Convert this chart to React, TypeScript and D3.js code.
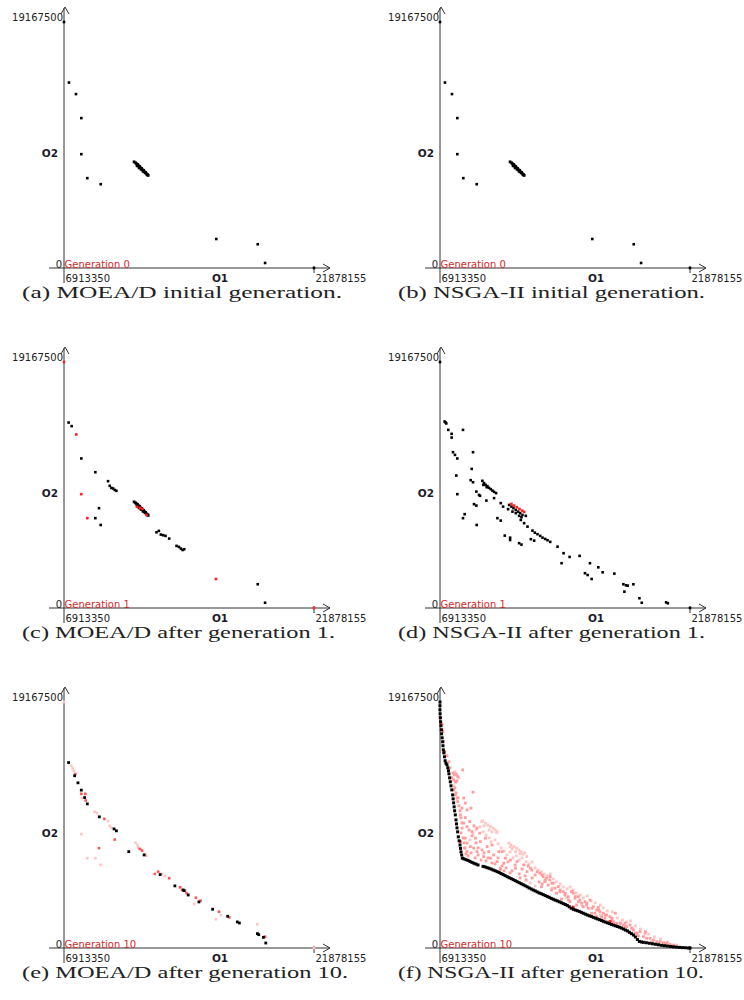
import React from "react";
import * as d3 from "d3";

// Objective ranges (raw units)
const O1_MIN = 6913350;
const O1_MAX = 21878155;
const O2_MAX = 19167500;

// All point values below are [O1, O2] in millions
type P = [number, number];

const extremes: P[] = [[6.91335, 19.1675], [21.878155, 0]];

const gen0Scatter: P[] = [
  [7.21, 14.45], [7.63, 13.55], [7.95, 11.68], [7.95, 8.87], [8.31, 7.0], [9.11, 6.53],
  [16.03, 2.26], [18.51, 1.85], [18.95, 0.39],
];
const gen0Cluster: P[] = [
  [11.11, 8.27], [11.2, 8.19], [11.26, 8.11], [11.32, 8.07], [11.38, 7.96], [11.44, 7.92],
  [11.5, 7.8], [11.56, 7.76], [11.62, 7.64], [11.68, 7.61], [11.74, 7.49], [11.8, 7.45],
  [11.86, 7.33], [11.92, 7.25], [11.95, 7.22], [11.29, 7.96], [11.41, 7.8], [11.53, 7.68],
  [11.65, 7.53], [11.77, 7.41], [11.89, 7.29],
];

// MOEA/D after generation 1
const moeadG1Black: P[] = [
  [7.19, 14.45], [7.37, 14.17], [7.95, 11.65], [8.79, 10.58], [9.55, 9.88], [9.65, 9.52],
  [9.75, 9.36], [9.85, 9.31], [9.95, 9.2], [10.05, 9.13], [9.01, 7.78], [8.79, 7.0], [9.11, 6.47],
  [12.45, 5.9], [12.59, 6.01], [12.71, 5.72], [12.85, 5.67], [12.99, 5.62], [13.21, 5.41],
  [13.65, 4.84], [13.79, 4.76], [13.91, 4.63], [14.01, 4.52], [14.11, 4.58],
  [18.51, 1.85], [18.95, 0.41],
];
const moeadG1Red: P[] = [
  [7.65, 13.52], [7.95, 8.87], [8.31, 7.0], [16.01, 2.26],
  [11.29, 7.88], [11.47, 7.8], [11.61, 7.72], [11.85, 7.25],
];

// NSGA-II after generation 1
const nsgaG1Black: P[] = [
  [7.25, 14.45], [7.19, 14.53], [7.29, 14.38], [7.41, 13.88], [7.61, 13.57], [7.61, 13.28],
  [8.29, 13.88], [7.69, 12.14], [7.81, 11.93], [7.95, 11.65], [8.89, 12.14], [8.81, 10.84],
  [7.89, 10.32], [8.75, 9.96], [8.89, 9.8], [7.95, 8.87], [9.09, 9.07], [9.25, 8.81], [9.31, 8.74],
  [9.69, 8.37], [10.15, 8.56],
  [9.45, 9.91], [9.55, 9.73], [9.65, 9.59], [9.75, 9.49], [9.85, 9.36], [9.95, 9.26],
  [10.05, 9.15], [10.15, 9.05], [10.27, 8.95], [9.51, 9.59], [9.71, 9.41],
  [8.95, 8.09], [9.09, 7.98], [8.39, 7.31], [8.29, 7.0], [9.11, 6.47], [10.55, 8.17], [10.69, 7.9],
  [11.05, 8.03], [11.19, 7.9], [11.31, 7.78], [11.45, 7.64], [11.59, 7.51], [11.71, 7.39],
  [11.85, 7.25], [12.05, 7.18], [10.99, 7.7], [11.25, 7.51], [11.45, 7.39], [11.65, 7.18], [11.79, 7.07],
  [10.35, 7.0], [10.55, 6.81], [11.75, 6.86], [11.95, 6.61], [12.15, 6.34],
  [12.45, 6.03], [12.59, 5.87], [12.75, 5.75], [12.91, 5.62], [13.05, 5.48], [13.21, 5.38],
  [13.35, 5.28], [13.51, 5.15], [10.79, 5.64], [11.11, 5.48], [11.11, 5.3], [11.65, 5.05],
  [11.79, 4.94], [12.35, 5.36], [12.55, 5.25], [13.95, 4.78], [14.31, 4.27], [14.67, 3.98],
  [15.27, 4.06], [14.19, 3.49], [15.89, 3.49], [16.39, 3.17], [16.65, 2.78], [17.35, 2.68],
  [15.59, 2.71], [15.75, 2.57], [15.99, 2.26], [17.89, 1.85], [18.05, 1.77], [18.15, 1.74],
  [18.49, 1.85], [17.95, 1.27], [18.85, 0.76], [18.99, 0.41], [20.45, 0.44], [20.55, 0.37],
];
const nsgaG1Red: P[] = [
  [11.19, 8.11], [11.35, 7.98], [11.51, 7.85], [11.67, 7.72], [11.83, 7.59], [11.95, 7.49],
];

// MOEA/D after generation 10
const moeadG10Black: P[] = [
  [7.19, 14.45], [7.55, 13.42], [7.75, 12.87], [7.95, 12.3], [8.15, 11.72], [8.31, 11.23],
  [9.03, 10.22], [9.91, 9.28], [10.05, 9.13], [10.79, 7.51], [11.71, 7.25], [12.67, 5.72],
  [13.55, 4.84], [14.05, 4.52], [14.11, 4.47], [14.35, 4.13], [14.99, 3.59], [15.81, 3.02],
  [16.71, 2.47], [17.29, 2.03], [17.41, 1.95], [18.49, 1.12], [18.57, 1.04], [18.85, 0.83], [18.99, 0.39],
];
const moeadG10Red: P[] = [
  [7.59, 13.55], [7.95, 12.01], [8.19, 12.01], [8.21, 11.49], [9.33, 10.06], [9.95, 8.45],
  [9.01, 7.78], [11.45, 7.72], [11.59, 7.59], [12.35, 5.77], [12.55, 5.95], [13.21, 5.44],
  [13.87, 4.73], [13.99, 4.52], [14.25, 4.27], [14.81, 3.92], [15.09, 3.69], [16.19, 2.83],
  [16.81, 2.39], [18.95, 0.88],
];
const moeadG10Pink: P[] = [
  [7.35, 14.2], [7.43, 13.99], [7.51, 13.81], [7.99, 11.68], [8.75, 10.61], [8.89, 10.51],
  [9.55, 9.88], [9.65, 9.52], [9.75, 9.36], [7.95, 8.87], [8.31, 7.0], [8.79, 7.0], [9.11, 6.47],
  [11.19, 8.21], [11.31, 8.03], [11.35, 7.85], [11.51, 7.7], [11.79, 7.33], [11.85, 7.18],
  [12.95, 5.62], [12.79, 5.77], [13.85, 4.73], [14.19, 4.47], [14.71, 3.43], [16.31, 2.55],
  [16.01, 2.24], [18.49, 1.85],
];

// NSGA-II after generation 10
const nsgaG10Front: P[] = [
  [6.91, 18.88], [6.91, 18.56], [6.92, 18.25], [6.93, 17.94], [6.95, 17.63], [6.97, 17.32],
  [6.99, 17.0], [7.01, 16.69], [7.04, 16.38], [7.07, 16.07], [7.09, 15.76], [7.11, 15.44],
  [7.14, 15.21], [7.18, 14.9], [7.22, 14.59], [7.27, 14.39], [7.33, 14.27], [7.38, 14.04],
  [7.42, 13.81], [7.45, 13.57], [7.49, 13.26], [7.53, 12.95], [7.57, 12.64], [7.62, 12.32],
  [7.67, 11.93], [7.7, 11.62], [7.73, 11.31], [7.76, 11.0], [7.79, 10.69], [7.83, 10.37],
  [7.87, 9.98], [7.9, 9.67], [7.93, 9.36], [7.97, 9.05], [8.01, 8.66], [8.06, 8.35],
  [8.11, 8.03], [8.14, 7.76], [8.17, 7.49], [8.21, 7.25], [8.25, 7.0],
  [8.35, 6.94], [8.47, 6.88], [8.59, 6.83], [8.71, 6.75], [8.83, 6.67], [8.95, 6.6], [9.07, 6.54],
  [9.19, 6.47], [9.49, 6.36], [9.61, 6.32], [9.73, 6.26], [9.85, 6.21], [9.97, 6.15], [10.09, 6.08],
  [10.21, 6.02], [10.33, 5.95], [10.45, 5.88], [10.57, 5.8], [10.69, 5.72], [10.81, 5.64],
  [10.93, 5.56], [11.05, 5.48], [11.17, 5.41], [11.29, 5.33], [11.41, 5.25], [11.53, 5.17],
  [11.65, 5.09], [11.77, 5.01], [11.89, 4.93], [12.01, 4.85], [12.13, 4.77], [12.25, 4.68],
  [12.37, 4.6], [12.49, 4.52], [12.61, 4.45], [12.73, 4.37], [12.85, 4.29], [12.97, 4.23],
  [13.09, 4.16], [13.21, 4.09], [13.33, 4.02], [13.45, 3.95], [13.57, 3.87], [13.69, 3.8],
  [13.81, 3.73], [13.93, 3.67], [14.05, 3.6], [14.17, 3.53], [14.29, 3.46], [14.41, 3.39],
  [14.53, 3.32], [14.65, 3.21], [14.77, 3.1], [14.89, 3.02], [15.01, 2.96], [15.13, 2.91],
  [15.25, 2.85], [15.37, 2.78], [15.49, 2.71], [15.61, 2.64], [15.73, 2.57], [15.85, 2.51],
  [15.97, 2.46], [16.09, 2.39], [16.21, 2.33], [16.33, 2.27], [16.45, 2.21], [16.57, 2.15],
  [16.69, 2.08], [16.81, 2.02], [16.93, 1.96], [17.05, 1.9], [17.17, 1.84], [17.29, 1.79],
  [17.41, 1.73], [17.53, 1.68], [17.65, 1.62], [17.77, 1.56], [17.89, 1.48], [18.01, 1.4],
  [18.13, 1.33], [18.25, 1.22], [18.37, 1.12], [18.49, 1.01], [18.61, 0.86], [18.73, 0.66],
  [18.85, 0.51], [18.97, 0.47], [19.09, 0.44], [19.27, 0.41], [19.45, 0.37], [19.63, 0.33],
  [19.81, 0.29], [19.99, 0.25], [20.17, 0.21], [20.35, 0.18], [20.53, 0.15], [20.71, 0.12],
  [20.89, 0.09], [21.07, 0.07], [21.25, 0.05], [21.43, 0.03], [21.61, 0.02], [21.79, 0.0],
];
const nsgaG10Red: P[] = [
  [6.97, 17.53], [7.03, 17.0], [7.17, 15.31], [8.13, 8.29], [14.89, 3.2], [17.11, 2.07], [6.96, 17.94],
];
const nsgaG10Pink: P[] = [
  [7.03, 17.39], [7.09, 16.87], [7.13, 16.09], [7.17, 15.19], [7.33, 14.98], [7.45, 14.51],
  [7.51, 14.04], [7.63, 13.26], [7.81, 12.48], [7.87, 12.09], [7.99, 11.7], [8.05, 11.08],
  [8.11, 10.69], [8.17, 10.14], [8.23, 9.75], [8.17, 8.97], [8.29, 8.58], [8.35, 8.19],
  [8.41, 7.8], [8.47, 7.33],
  [7.69, 13.63], [7.77, 13.49], [7.89, 13.55], [7.97, 13.36], [7.73, 13.1], [7.85, 12.92],
  [7.93, 13.03], [8.27, 13.88], [8.89, 12.14], [7.73, 12.32], [7.83, 11.93], [7.93, 11.68],
  [7.97, 11.41], [8.33, 11.68], [8.43, 11.29], [8.23, 10.9], [8.53, 10.76], [8.77, 10.9],
  [8.13, 10.37], [8.43, 10.16], [8.69, 9.85], [8.33, 9.73], [8.23, 9.34], [8.53, 9.46], [8.83, 9.07],
  [9.13, 9.34], [9.29, 8.95], [9.63, 8.56], [9.03, 8.56], [9.33, 8.29],
  [8.43, 8.56], [8.53, 8.17], [8.73, 7.9], [8.37, 7.78], [8.53, 7.51], [8.93, 7.78], [9.13, 7.51],
  [9.43, 7.64], [9.73, 7.9], [10.03, 8.03], [9.83, 7.51], [10.13, 7.25], [10.43, 7.51],
  [10.63, 7.51], [9.53, 7.12], [9.93, 7.0], [10.33, 6.73], [10.73, 6.61], [10.53, 6.22], [10.83, 7.0],
  [11.13, 6.86], [11.53, 6.73], [11.93, 6.47], [12.33, 6.22], [12.73, 5.95], [11.43, 6.22], [12.13, 5.95],
  [8.59, 7.18], [8.77, 7.41], [9.01, 7.02], [9.19, 7.25], [9.37, 6.86], [9.55, 7.41], [9.07, 8.19],
  [8.83, 8.74], [8.65, 9.2], [8.95, 9.52], [9.19, 7.8], [9.67, 6.79], [10.21, 6.55], [10.39, 7.02],
  [10.63, 6.4], [10.87, 6.24], [10.99, 6.71], [11.23, 6.01], [11.41, 6.47], [11.65, 5.77],
  [11.83, 6.16], [12.01, 5.62], [12.19, 6.4], [12.43, 5.46], [12.61, 5.69], [12.85, 5.15],
  [13.03, 4.99], [12.07, 5.3], [11.71, 5.46], [11.11, 5.85], [10.75, 6.01], [10.51, 6.08],
  [10.03, 6.63], [9.79, 7.02],
  [12.41, 6.08], [13.01, 5.69], [13.21, 5.3], [13.61, 5.05], [13.51, 5.56],
  [14.11, 4.52], [14.41, 4.27], [14.81, 4.39], [15.01, 4.0], [15.21, 3.61], [14.61, 3.74],
  [15.71, 3.49], [16.01, 3.1], [16.41, 2.96], [16.81, 2.57], [17.21, 2.32], [16.61, 2.18], [17.41, 2.71],
  [17.71, 1.93], [18.01, 1.66], [18.41, 1.54], [18.71, 1.15], [19.21, 1.27],
  [19.61, 0.49], [20.01, 0.37], [20.41, 0.37], [20.81, 0.16],
  [12.89, 5.83], [13.09, 5.56], [13.29, 5.44], [13.19, 5.17], [13.49, 5.3], [13.39, 4.91],
  [12.99, 4.78], [13.69, 5.05], [13.79, 4.66], [13.59, 4.52], [13.99, 4.78], [14.09, 4.39],
  [13.89, 4.27], [14.29, 4.39], [14.39, 4.13], [14.59, 4.0], [14.79, 4.39], [14.89, 4.27],
  [14.99, 3.88], [15.19, 4.0], [15.29, 3.74], [15.39, 3.49], [15.59, 3.61], [15.69, 3.35],
  [15.89, 3.74], [15.79, 3.1], [16.09, 3.22], [16.29, 2.96], [16.19, 2.71], [16.39, 3.17],
  [16.49, 2.83], [16.69, 2.71], [16.59, 2.44], [16.79, 2.32], [16.89, 2.57], [17.09, 2.44],
  [17.19, 2.18], [17.29, 2.05], [17.49, 1.93], [17.39, 1.79], [17.69, 1.93], [17.89, 1.79],
  [18.09, 1.66], [17.79, 1.54], [18.29, 1.79], [18.39, 1.54], [18.19, 1.27], [18.49, 1.4],
  [18.59, 1.15], [18.89, 1.27], [19.19, 1.15], [19.29, 0.76], [19.49, 0.76], [19.69, 0.62],
  [19.89, 0.49], [20.09, 0.49], [20.29, 0.41], [20.49, 0.37], [20.69, 0.29], [20.89, 0.23],
  [19.09, 0.88], [18.79, 0.94], [17.99, 1.93], [15.49, 3.22], [15.09, 3.35], [14.69, 3.61],
  [14.19, 3.8], [17.59, 1.66], [16.99, 2.05], [15.99, 2.71], [16.29, 2.44],
];
const nsgaG10LightPink: P[] = [
  [9.47, 9.91], [9.63, 9.73], [9.77, 9.59], [9.93, 9.46], [10.09, 9.34], [10.23, 9.2], [10.33, 9.07],
  [9.41, 9.85], [9.55, 9.52], [9.85, 9.2], [10.03, 9.05], [10.31, 8.99],
  [11.03, 8.17], [11.17, 8.03], [11.33, 7.9], [11.49, 7.78], [11.63, 7.64], [11.77, 7.51],
  [11.43, 7.51], [11.23, 7.72], [11.89, 7.31], [12.11, 7.12], [11.11, 7.88], [11.71, 7.33], [11.98, 7.41],
  [7.81, 13.73], [8.05, 13.26], [7.75, 12.64], [13.63, 4.68], [14.47, 3.9], [15.43, 3.28],
  [16.51, 2.57], [12.61, 4.84], [12.31, 5.07],
  [8.71, 8.42], [8.89, 8.89], [9.07, 9.2], [9.31, 9.44], [9.49, 9.05], [9.67, 8.81], [9.85, 8.58],
  [9.97, 8.27], [10.21, 8.42], [10.39, 8.11], [10.57, 7.8], [10.75, 7.57], [10.93, 7.25],
  [11.11, 7.49], [11.29, 7.02], [11.47, 7.18], [11.65, 6.86], [11.83, 7.02], [12.07, 6.71],
  [12.25, 6.55], [12.43, 6.71], [12.61, 6.24], [12.79, 6.08], [12.97, 5.93], [13.15, 5.77],
  [13.33, 5.62], [13.51, 5.77], [13.69, 5.38], [13.87, 5.15], [14.11, 4.99], [14.29, 4.76],
  [14.53, 4.6], [14.71, 4.76], [14.89, 4.52], [15.07, 4.29], [15.31, 4.13], [15.49, 3.9],
  [15.73, 4.06], [15.97, 3.67], [16.21, 3.51], [16.51, 3.35], [16.69, 3.12], [16.93, 2.89],
  [17.23, 2.81], [17.53, 2.34], [17.83, 2.18], [18.07, 2.03], [18.31, 2.11], [18.61, 1.72],
  [18.91, 1.48], [19.39, 1.09], [19.75, 0.86], [20.11, 0.7], [20.53, 0.47], [21.07, 0.23],
];

const O1_TICKS = [O1_MIN, O1_MAX];
const O2_TICKS = [0, O2_MAX];

const BLACK = "#000000";
const RED = "#ff1f1f";
const RED_E = "#ff5454";
const PINK_E = "#ffc4c4";
const PINK_F = "#ff9c9c";
const LIGHT_F = "#ffc6c6";

type Layer = { pts: P[]; color: string; size: number };
type PanelDef = {
  ox: number; oy: number; gen: string; caption: string; capW: number; layers: Layer[];
};

const panels: PanelDef[] = [
  { ox: 64, oy: 268, gen: "Generation 0", caption: "(a) MOEA/D initial generation.", capW: 320,
    layers: [{ pts: extremes, color: BLACK, size: 2.6 }, { pts: gen0Scatter, color: BLACK, size: 2.6 }, { pts: gen0Cluster, color: BLACK, size: 2.8 }] },
  { ox: 440, oy: 268, gen: "Generation 0", caption: "(b) NSGA-II initial generation.", capW: 307,
    layers: [{ pts: extremes, color: BLACK, size: 2.6 }, { pts: gen0Scatter, color: BLACK, size: 2.6 }, { pts: gen0Cluster, color: BLACK, size: 2.8 }] },
  { ox: 64, oy: 608, gen: "Generation 1", caption: "(c) MOEA/D after generation 1.", capW: 313,
    layers: [{ pts: gen0Cluster, color: BLACK, size: 2.8 }, { pts: moeadG1Black, color: BLACK, size: 2.6 }, { pts: moeadG1Red, color: RED, size: 2.6 }, { pts: extremes, color: RED, size: 2.6 }] },
  { ox: 440, oy: 608, gen: "Generation 1", caption: "(d) NSGA-II after generation 1.", capW: 307,
    layers: [{ pts: extremes, color: BLACK, size: 2.6 }, { pts: nsgaG1Black, color: BLACK, size: 2.6 }, { pts: nsgaG1Red, color: RED, size: 2.6 }] },
  { ox: 64, oy: 948, gen: "Generation 10", caption: "(e) MOEA/D after generation 10.", capW: 326,
    layers: [{ pts: extremes, color: PINK_E, size: 2.6 }, { pts: moeadG10Pink, color: PINK_E, size: 2.6 }, { pts: moeadG10Red, color: RED_E, size: 2.6 }, { pts: moeadG10Black, color: BLACK, size: 2.8 }] },
  { ox: 440, oy: 948, gen: "Generation 10", caption: "(f) NSGA-II after generation 10.", capW: 306,
    layers: [{ pts: nsgaG10LightPink, color: LIGHT_F, size: 2.8 }, { pts: nsgaG10Pink, color: PINK_F, size: 2.8 }, { pts: nsgaG10Red, color: RED, size: 2.6 }, { pts: nsgaG10Front, color: BLACK, size: 3 }, { pts: extremes, color: BLACK, size: 3 }] },
];

const SANS = "'DejaVu Sans', Verdana, sans-serif";
const SERIF = "'Liberation Serif', 'DejaVu Serif', serif";
const AXIS = "#333";

function Panel({ p }: { p: PanelDef }) {
  const { ox, oy } = p;
  const x = d3.scaleLinear().domain([O1_MIN / 1e6, O1_MAX / 1e6]).range([ox, ox + 250]);
  const y = d3.scaleLinear().domain([0, O2_MAX / 1e6]).range([oy, oy - 246]);
  const fmt = d3.format("d");
  return (
    <g>
      <line x1={ox} y1={oy - 260} x2={ox} y2={oy + 15} stroke={AXIS} strokeWidth={1} />
      <polyline points={`${ox - 3},${oy - 254} ${ox + 1},${oy - 261} ${ox + 5},${oy - 254}`} fill="none" stroke={AXIS} strokeWidth={1} />
      <line x1={ox - 15} y1={oy} x2={ox + 266} y2={oy} stroke={AXIS} strokeWidth={1} />
      <polyline points={`${ox + 259},${oy - 4} ${ox + 266},${oy} ${ox + 259},${oy + 4}`} fill="none" stroke={AXIS} strokeWidth={1} />
      <line x1={x(O1_MAX / 1e6)} y1={oy - 2} x2={x(O1_MAX / 1e6)} y2={oy + 5} stroke={AXIS} strokeWidth={1} />
      <text x={ox - 1} y={y(O2_TICKS[1] / 1e6) - 1} textAnchor="end" fontFamily={SANS} fontSize={10} fill="#222">{fmt(O2_TICKS[1])}</text>
      <text x={ox - 2} y={y(O2_TICKS[0])} textAnchor="end" fontFamily={SANS} fontSize={10} fill="#222">{fmt(O2_TICKS[0])}</text>
      <text x={x(O1_TICKS[0] / 1e6) + 1.5} y={oy + 14} fontFamily={SANS} fontSize={10} fill="#222">{fmt(O1_TICKS[0])}</text>
      <text x={x(O1_TICKS[1] / 1e6) + 1.5} y={oy + 14} fontFamily={SANS} fontSize={10} fill="#222">{fmt(O1_TICKS[1])}</text>
      <text x={ox + 156} y={oy + 14} textAnchor="middle" fontFamily={SANS} fontWeight="bold" fontSize={10.5} fill="#1b1b2b">O1</text>
      <text x={ox - 6} y={oy - 111} textAnchor="end" fontFamily={SANS} fontWeight="bold" fontSize={10.5} fill="#1b1b2b">O2</text>
      <text x={ox + 0.5} y={oy} fontFamily={SANS} fontSize={10} fill="#d42a2a">{p.gen}</text>
      {p.layers.map((L, li) => (
        <g key={li} fill={L.color}>
          {L.pts.map((d, i) => (
            <rect key={i} x={x(d[0]) - L.size / 2} y={y(d[1]) - L.size / 2} width={L.size} height={L.size} />
          ))}
        </g>
      ))}
      <text x={ox - 42} y={oy + 30} fontFamily={SERIF} fontSize={17.5} fill="#222" textLength={p.capW} lengthAdjust="spacingAndGlyphs">{p.caption}</text>
    </g>
  );
}

export default function App() {
  return (
    <svg width={744} height={1000} viewBox="0 0 744 1000" style={{ position: "absolute", left: 0, top: 0, background: "#fff" }}>
      <rect x={0} y={0} width={744} height={1000} fill="#fff" />
      {panels.map((p, i) => (
        <Panel key={i} p={p} />
      ))}
    </svg>
  );
}
